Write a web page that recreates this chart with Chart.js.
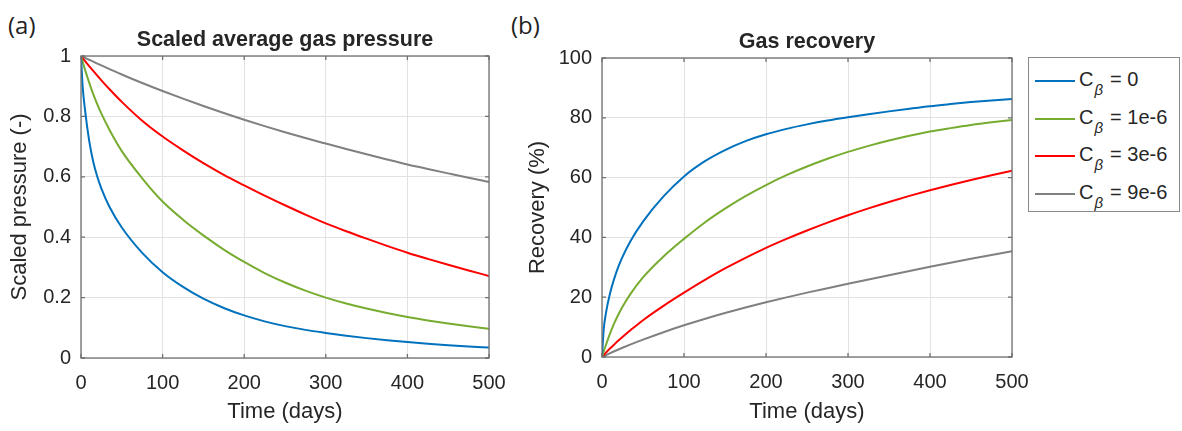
<!DOCTYPE html>
<html>
<head>
<meta charset="utf-8">
<script src="https://cdn.jsdelivr.net/npm/chart.js@4.4.1/dist/chart.umd.min.js"></script>
<style>
    body { margin: 0; background: #fff; width: 1182px; height: 431px; overflow: hidden; position: relative;
           font-family: "Liberation Sans", Arial, sans-serif; color: #262626; }
    canvas { position: absolute; top: 0; }
    #pressureChart { left: 0; }
    #recoveryChart { left: 510px; }
    .panel { position: absolute; top: 11px; font-family: "Open Sans", sans-serif; font-size: 24px; line-height: 28px; color: #222; }
    #legend { position: absolute; left: 1028px; top: 57px; width: 152px; height: 155px; z-index: 2;
              border: 1px solid #8a8a8a; background: #fff; box-sizing: border-box; }
    .item { position: absolute; left: 0; height: 30px; width: 150px; }
    .swatch { position: absolute; left: 6px; top: 14px; width: 40px; height: 2px; }
    .label { position: absolute; left: 50px; top: 2px; font-size: 20px; line-height: 22px; white-space: nowrap; }
    .label sub { font-size: 15px; font-style: italic; position: relative; top: 4px; margin: 0 7px 0 1px; }
</style>
</head>
<body>
<div class="panel" style="left:8px">(a)</div>
<div class="panel" style="left:511px">(b)</div>
<canvas id="pressureChart" width="510" height="431"></canvas>
<canvas id="recoveryChart" width="540" height="431"></canvas>
<div id="legend"></div>

<script>
// Time axis (days)
const days = [0, 2, 5, 10, 15, 20, 25, 35, 50, 75, 100, 125, 150, 175, 200, 225, 250, 275, 300,
              325, 350, 375, 400, 425, 450, 475, 500];

// Scaled average gas pressure (-)
const pressure0 = [1, 0.90, 0.82, 0.72, 0.65, 0.60, 0.561, 0.50, 0.432, 0.348, 0.284, 0.2354, 0.1966, 0.1657, 0.141,
                   0.1213, 0.1056, 0.0931, 0.083, 0.0738, 0.0658, 0.0588, 0.0527, 0.0473, 0.0425, 0.0383, 0.0345];
const pressure1 = [1, 0.981, 0.954, 0.912, 0.874, 0.84, 0.809, 0.755, 0.685, 0.595, 0.518, 0.458, 0.406, 0.359, 0.318,
                   0.2813, 0.2501, 0.223, 0.1998, 0.1803, 0.1636, 0.1489, 0.1359, 0.1245, 0.1142, 0.1051, 0.0969];
const pressure3 = [1, 0.9932, 0.9832, 0.9667, 0.9506, 0.9349, 0.9195, 0.8899, 0.8481, 0.7858, 0.7335, 0.6877, 0.6452, 0.6067, 0.5717,
                   0.5377, 0.5057, 0.4747, 0.4457, 0.4197, 0.3952, 0.3714, 0.3487, 0.3282, 0.3087, 0.2899, 0.2717];
const pressure9 = [1, 0.9975, 0.9938, 0.9875, 0.9813, 0.975, 0.9688, 0.9568, 0.9388, 0.9105, 0.884, 0.8588, 0.8345, 0.8113, 0.789,
                   0.7678, 0.7475, 0.7283, 0.71, 0.692, 0.6745, 0.6575, 0.641, 0.626, 0.6113, 0.5968, 0.583];

// Gas recovery (%)
const recovery0 = [0, 9, 15, 21.5, 26.3, 30.2, 33.5, 38.9, 45.3, 53.7, 60.4, 65.4, 69.2, 72.2, 74.5,
                   76.3, 77.8, 79.1, 80.2, 81.2, 82.15, 83.05, 83.9, 84.6, 85.25, 85.8, 86.3];
const recovery1 = [0, 1.8, 4.2, 8, 11.3, 14.2, 16.8, 21.2, 26.6, 33.6, 39.5, 44.9, 49.6, 53.8, 57.5,
                   60.8, 63.7, 66.3, 68.6, 70.6, 72.4, 74.0, 75.4, 76.55, 77.6, 78.5, 79.3];
const recovery3 = [0, 0.6, 1.5, 2.9, 4.2, 5.5, 6.7, 9.0, 12.3, 17.1, 21.5, 25.7, 29.6, 33.15, 36.5,
                   39.5, 42.3, 44.95, 47.4, 49.7, 51.85, 53.875, 55.775, 57.55, 59.225, 60.8, 62.275];
const recovery9 = [0, 0.26, 0.66, 1.3, 1.91, 2.5, 3.08, 4.2, 5.8, 8.3, 10.6, 12.725, 14.7, 16.55, 18.3,
                   19.95, 21.525, 23.025, 24.5, 25.95, 27.375, 28.775, 30.15, 31.5, 32.825, 34.125, 35.4];

// Legend values and line colours
const cbetaValues = ['0', '1e-6', '3e-6', '9e-6'];
const seriesColors = ['#0072BD', '#77AC30', '#FF0000', '#808080'];

// Tick labels
const dayTicks = [0, 100, 200, 300, 400, 500];
const pressureTicks = [0, 0.2, 0.4, 0.6, 0.8, 1];
const recoveryTicks = [0, 20, 40, 60, 80, 100];

const textColor = '#262626';
const gridColor = '#e2e2e2';
const axisColor = '#707070';

Chart.defaults.font.family = '"Liberation Sans", Arial, sans-serif';
Chart.defaults.color = textColor;

function toPoints(values) {
    return days.map((d, i) => ({ x: d, y: values[i] }));
}

function buildDatasets(seriesList) {
    return seriesList.map((values, i) => ({
        label: 'C\u03B2 = ' + cbetaValues[i],
        data: toPoints(values),
        borderColor: seriesColors[i],
        borderWidth: 2,
        pointRadius: 0,
        fill: false,
        cubicInterpolationMode: 'monotone'
    }));
}

// Draws the MATLAB-style box, inward tick marks and the bold title
function frameAndTitle(titleText, titleY) {
    return {
        id: 'frameAndTitle',
        afterDraw(chart) {
            const { ctx, chartArea: a, scales } = chart;
            ctx.save();
            ctx.strokeStyle = axisColor;
            ctx.lineWidth = 1.3;
            ctx.strokeRect(a.left, a.top, a.right - a.left, a.bottom - a.top);
            ctx.beginPath();
            scales.x.ticks.forEach(t => {
                const px = scales.x.getPixelForValue(t.value);
                ctx.moveTo(px, a.bottom); ctx.lineTo(px, a.bottom - 4);
                ctx.moveTo(px, a.top); ctx.lineTo(px, a.top + 4);
            });
            scales.y.ticks.forEach(t => {
                const py = scales.y.getPixelForValue(t.value);
                ctx.moveTo(a.left, py); ctx.lineTo(a.left + 4, py);
                ctx.moveTo(a.right, py); ctx.lineTo(a.right - 4, py);
            });
            ctx.stroke();

            ctx.fillStyle = textColor;
            ctx.font = 'bold 21.5px "Liberation Sans", Arial, sans-serif';
            ctx.textAlign = 'center';
            ctx.textBaseline = 'middle';
            ctx.fillText(titleText, (a.left + a.right) / 2, titleY);
            ctx.restore();
        }
    };
}

function makeChart(canvasId, opts) {
    const ctx = document.getElementById(canvasId).getContext('2d');
    return new Chart(ctx, {
        type: 'line',
        data: { datasets: buildDatasets(opts.series) },
        options: {
            responsive: false,
            animation: false,
            layout: { padding: { top: opts.top, right: opts.right, left: 0, bottom: 0 } },
            plugins: { legend: { display: false }, tooltip: { enabled: false } },
            scales: {
                x: {
                    type: 'linear',
                    min: 0,
                    max: 500,
                    afterBuildTicks: s => { s.ticks = dayTicks.map(v => ({ value: v })); },
                    afterFit: s => { s.height = opts.xHeight; s.paddingLeft = 0; s.paddingRight = 0; },
                    grid: { color: gridColor, lineWidth: 1, drawTicks: false },
                    border: { display: false },
                    ticks: { padding: 13, autoSkip: false, maxRotation: 0, font: { size: 20 }, color: textColor,
                             callback: v => String(v) },
                    title: { display: true, text: 'Time (days)', font: { size: 22 }, color: textColor,
                             padding: { top: 0, bottom: 6 } }
                },
                y: {
                    type: 'linear',
                    min: opts.yMin,
                    max: opts.yMax,
                    afterBuildTicks: s => { s.ticks = opts.yTicks.map(v => ({ value: v })); },
                    afterFit: s => { s.width = opts.yWidth; s.paddingTop = 0; s.paddingBottom = 0; },
                    grid: { color: gridColor, lineWidth: 1, drawTicks: false },
                    border: { display: false },
                    ticks: { padding: 10, autoSkip: false, font: { size: 20 }, color: textColor,
                             callback: v => String(v) },
                    title: { display: true, text: opts.yTitle, font: { size: 22 }, color: textColor,
                             padding: { top: opts.yTitlePad, bottom: 0 } }
                }
            }
        },
        plugins: [frameAndTitle(opts.title, opts.titleY)]
    });
}

makeChart('pressureChart', {
    series: [pressure0, pressure1, pressure3, pressure9],
    title: 'Scaled average gas pressure',
    titleY: 40,
    yTitle: 'Scaled pressure (-)',
    yMin: 0, yMax: 1,
    yTicks: pressureTicks,
    top: 56, right: 21, xHeight: 73, yWidth: 81, yTitlePad: 7
});

makeChart('recoveryChart', {
    series: [recovery0, recovery1, recovery3, recovery9],
    title: 'Gas recovery',
    titleY: 42,
    yTitle: 'Recovery (%)',
    yMin: 0, yMax: 100,
    yTicks: recoveryTicks,
    top: 58, right: 38, xHeight: 74, yWidth: 92, yTitlePad: 15
});

// HTML legend so the subscript beta can be real text
const legendEl = document.getElementById('legend');
cbetaValues.forEach((v, i) => {
    const item = document.createElement('div');
    item.className = 'item';
    item.style.top = (8 + i * 37.5) + 'px';
    item.innerHTML = '<div class="swatch" style="background:' + seriesColors[i] + '"></div>' +
        '<div class="label">C<sub>\u03B2</sub>= ' + v + '</div>';
    legendEl.appendChild(item);
});
</script>
</body>
</html>
